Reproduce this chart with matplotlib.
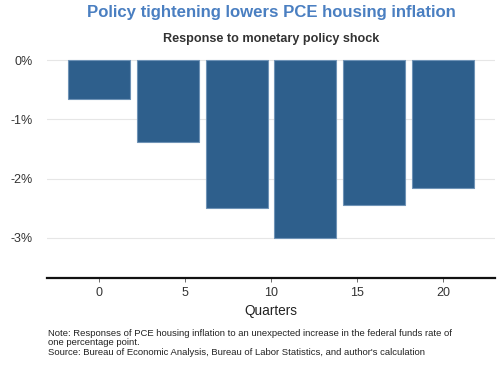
import matplotlib.pyplot as plt

plt.rcParams['font.family'] = ['Liberation Sans', 'DejaVu Sans']

quarters = [0, 4, 8, 12, 16, 20]
response = [-0.66, -1.38, -2.50, -3.00, -2.44, -2.15]
yticks = [0, -1, -2, -3]
ytick_labels = ['0%', '-1%', '-2%', '-3%']
xticks = [0, 5, 10, 15, 20]

fig = plt.figure(figsize=(5, 3.65), dpi=100)
ax = fig.add_axes([0.094, 0.2375, 0.896, 0.606])

ax.bar(quarters, response, width=3.6, color='#2e5f8c', edgecolor='#6f93b6',
       linewidth=0.8, zorder=3)

ax.set_xlim(-3, 23)
ax.set_ylim(-3.68, 0.05)
ax.set_yticks(yticks)
ax.set_yticklabels(ytick_labels)
ax.set_xticks(xticks)
ax.grid(axis='y', color='#e6e6e6', linewidth=0.8, zorder=0)

for s in ['top', 'right', 'left']:
    ax.spines[s].set_visible(False)
ax.spines['bottom'].set_linewidth(1.6)
ax.spines['bottom'].set_color('#111111')
ax.tick_params(axis='y', length=0, pad=10, labelsize=9, labelcolor='#333333')
ax.tick_params(axis='x', length=3, width=0.6, color='#555555', pad=3,
               labelsize=9, labelcolor='#333333')

ax.set_xlabel('Quarters', fontsize=9.8, color='#222222', labelpad=4)

fig.text(0.542, 0.965, 'Policy tightening lowers PCE housing inflation',
         ha='center', va='center', fontsize=12.1, fontweight='bold',
         color='#4a7fc1')
fig.text(0.542, 0.893, 'Response to monetary policy shock',
         ha='center', va='center', fontsize=9.1, fontweight='bold',
         color='#333333')

fig.text(0.095, 0.061,
         'Note: Responses of PCE housing inflation to an unexpected increase in the federal funds rate of\n'
         'one percentage point.\n'
         "Source: Bureau of Economic Analysis, Bureau of Labor Statistics, and author's calculation",
         ha='left', va='center', fontsize=6.8, color='#222222', linespacing=1.1)

fig.savefig('out.png', dpi=100)
